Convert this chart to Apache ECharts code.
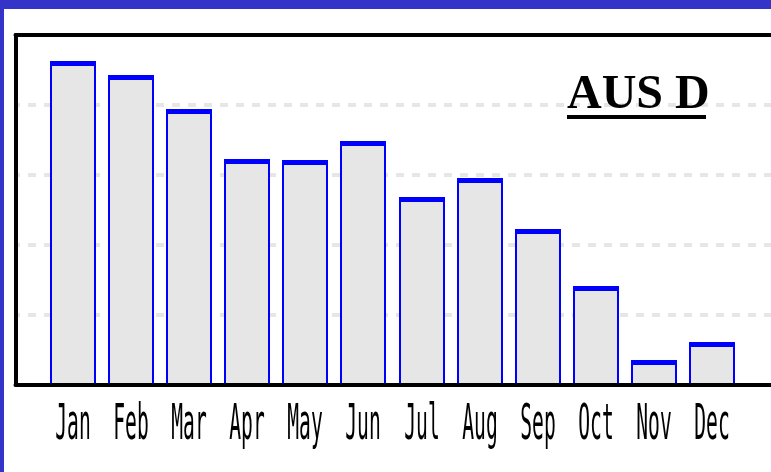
<!DOCTYPE html>
<html><head><meta charset="utf-8">
<script src="https://cdn.jsdelivr.net/npm/echarts@6/dist/echarts.min.js"></script>
<style>
html,body{margin:0;padding:0;background:#3434c9;width:771px;height:472px;overflow:hidden}
#chart{position:absolute;left:4px;top:9px;width:767px;height:463px;background:#ffffff}
</style></head><body><div id="chart"></div>
<script>
const categories = ['Jan','Feb','Mar','Apr','May','Jun','Jul','Aug','Sep','Oct','Nov','Dec'];
const values = [46.3, 44.3, 39.5, 32.3, 32.2, 34.9, 26.9, 29.6, 22.3, 14.2, 3.6, 6.1];
const chartTitle = 'AUS D';
const yMin = 0, yMax = 50, yInterval = 10;

const chart = echarts.init(document.getElementById('chart'), null, {renderer: 'canvas'});
const seriesData = values.map((v, i) => [i, v]);
const frameLine = {show: true, onZero: false, lineStyle: {color: '#000', width: 4}};
const noParts = {axisTick: {show: false}, axisLabel: {show: false}};

chart.setOption({
  animation: false,
  backgroundColor: '#ffffff',
  title: {
    text: chartTitle, left: 563, top: 63, padding: 0,
    textStyle: {fontFamily: 'Liberation Serif', fontWeight: 'bold', fontSize: 48, color: '#000'}
  },
  grid: [
    {left: 40, right: 30, top: 26, bottom: 87},
    {left: 11.5, right: -30, top: 26, bottom: 87, outerBoundsMode: 'none'}
  ],
  xAxis: [
    {gridIndex: 0, type: 'category', data: categories, show: false},
    Object.assign({gridIndex: 1, type: 'value', min: 0, max: 1, position: 'bottom', z: 5,
     axisLine: frameLine, splitLine: {show: false}}, noParts),
    Object.assign({gridIndex: 1, type: 'value', min: 0, max: 1, position: 'top', z: 5,
     axisLine: frameLine, splitLine: {show: false}}, noParts)
  ],
  yAxis: [
    {gridIndex: 0, type: 'value', min: yMin, max: yMax, interval: yInterval, show: false},
    Object.assign({gridIndex: 1, type: 'value', min: yMin, max: yMax, interval: yInterval, z: 5,
     position: 'left', axisLine: frameLine, splitLine: {show: false}}, noParts),
    Object.assign({gridIndex: 1, type: 'value', min: yMin, max: yMax, interval: yInterval, z: 0,
     position: 'right', axisLine: {show: false},
     splitLine: {show: true, lineStyle: {color: '#e6e6e6', width: 4, type: [8, 8], dashOffset: 3.5}}}, noParts)
  ],
  series: [{
    type: 'custom', xAxisIndex: 0, yAxisIndex: 0, z: 2,
    data: seriesData,
    renderItem: function (params, api) {
      const top = api.coord([api.value(0), api.value(1)]);
      const base = api.coord([api.value(0), 0]);
      const cx = Math.round(top[0]);
      const ty = Math.round(top[1]);
      return {type: 'group', children: [
        {type: 'rect', shape: {x: cx - 22, y: ty + 1, width: 44, height: base[1] - ty - 1},
         style: {fill: '#e6e6e6', stroke: '#0000ff', lineWidth: 2}},
        {type: 'rect', shape: {x: cx - 23, y: ty, width: 46, height: 5},
         style: {fill: '#0000ff'}}
      ]};
    }
  }]
});

const labelEls = categories.map((c, i) => {
  const p = chart.convertToPixel({xAxisIndex: 0, yAxisIndex: 0}, [i, 0]);
  return {
    type: 'text', x: Math.round(p[0]), y: 417, scaleX: 0.40, z: 10,
    style: {text: c, x: 0, y: 0, fill: '#000', font: '49px "DejaVu Sans Mono"',
            textAlign: 'center', textVerticalAlign: 'middle', align: 'center', verticalAlign: 'middle'}
  };
});
chart.setOption({
  graphic: [
    {type: 'rect', shape: {x: 563, y: 106, width: 139, height: 4}, style: {fill: '#000'}, z: 10}
  ].concat(labelEls)
});
</script></body></html>
